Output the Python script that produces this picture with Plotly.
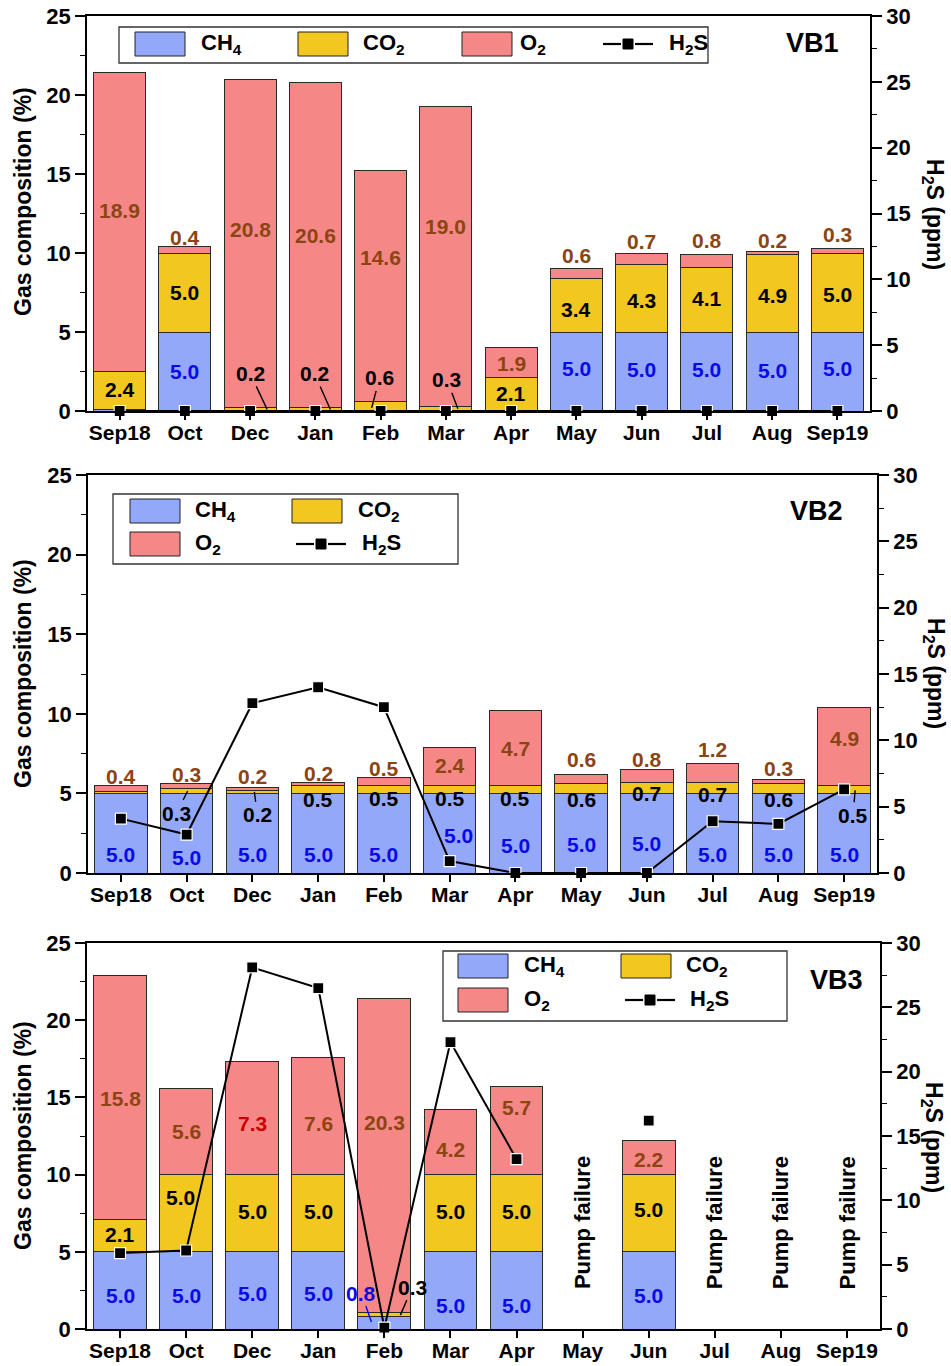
import plotly.graph_objects as go

# ---------------------------------------------------------------- data
months = ["Sep18", "Oct", "Dec", "Jan", "Feb", "Mar", "Apr", "May", "Jun", "Jul", "Aug", "Sep19"]

# VB1 gas composition (%) and H2S (ppm)
vb1_ch4 = [0.1, 5.0, 0.0, 0.0, 0.0, 0.0, 0.0, 5.0, 5.0, 5.0, 5.0, 5.0]
vb1_co2 = [2.4, 5.0, 0.2, 0.2, 0.6, 0.3, 2.1, 3.4, 4.3, 4.1, 4.9, 5.0]
vb1_o2 = [18.9, 0.4, 20.8, 20.6, 14.6, 19.0, 1.9, 0.6, 0.7, 0.8, 0.2, 0.3]
vb1_h2s = [0.0, 0.0, 0.0, 0.0, 0.0, 0.0, 0.0, 0.0, 0.0, 0.0, 0.0, 0.0]

# VB2
vb2_ch4 = [5.0, 5.0, 5.0, 5.0, 5.0, 5.0, 5.0, 5.0, 5.0, 5.0, 5.0, 5.0]
vb2_co2 = [0.1, 0.3, 0.2, 0.5, 0.5, 0.5, 0.5, 0.6, 0.7, 0.7, 0.6, 0.5]
vb2_o2 = [0.4, 0.3, 0.2, 0.2, 0.5, 2.4, 4.7, 0.6, 0.8, 1.2, 0.3, 4.9]
vb2_h2s = [4.1, 2.9, 12.8, 14.0, 12.5, 0.9, 0.0, 0.0, 0.0, 3.9, 3.7, 6.3]

# VB3 (None = pump failure, no sample)
vb3_ch4 = [5.0, 5.0, 5.0, 5.0, 0.8, 5.0, 5.0, None, 5.0, None, None, None]
vb3_co2 = [2.1, 5.0, 5.0, 5.0, 0.3, 5.0, 5.0, None, 5.0, None, None, None]
vb3_o2 = [15.8, 5.6, 7.3, 7.6, 20.3, 4.2, 5.7, None, 2.2, None, None, None]
vb3_h2s = [5.9, 6.1, 28.1, 26.5, 0.1, 22.3, 13.2, None, 16.2, None, None, None]

# ---------------------------------------------------------------- style
W, H = 951, 1366
FONT = "Liberation Sans, Arial, sans-serif"
FILL = {"CH4": "#93A8F8", "CO2": "#F2C71F", "O2": "#F58886"}
TXT = {"CH4": "#0A0AE8", "CO2": "#000000", "O2": "#8B4513"}
NAMES = {"CH4": "CH<sub>4</sub>", "CO2": "CO<sub>2</sub>", "O2": "O<sub>2</sub>"}


def fx(p):
    return p / W


def fy(p):
    return 1 - p / H


# Panel geometry in page pixels: (left, right, top, bottom)
panels = [
    dict(tag="VB1", ch4=vb1_ch4, co2=vb1_co2, o2=vb1_o2, h2s=vb1_h2s,
         box=(87, 870, 16, 411), tag_xy=(812, 43), ltitle_y=202, rtitle=(933, 214)),
    dict(tag="VB2", ch4=vb2_ch4, co2=vb2_co2, o2=vb2_o2, h2s=vb2_h2s,
         box=(88, 877, 475, 873), tag_xy=(816, 511), ltitle_y=674, rtitle=(935, 673)),
    dict(tag="VB3", ch4=vb3_ch4, co2=vb3_co2, o2=vb3_o2, h2s=vb3_h2s,
         box=(87, 880, 943, 1329), tag_xy=(836, 980), ltitle_y=1136, rtitle=(933, 1137)),
]

# Heights (in %) where the value labels sit; None = no free label
label_y = {
    "VB1": {
        "CH4": [None, 2.47, None, None, None, None, None, 2.7, 2.65, 2.65, 2.55, 2.7],
        "CO2": [1.33, 7.47, None, None, None, None, 1.13, 6.45, 7.0, 7.15, 7.3, 7.4],
        "O2": [12.7, 11.0, 11.5, 11.1, 9.7, 11.7, 3.0, 9.87, 10.7, 10.77, 10.77, 11.14],
    },
    "VB2": {
        "CH4": [1.17, 0.96, 1.17, 1.17, 1.17, 2.35, 1.72, 1.8, 1.86, 1.17, 1.17, 1.17],
        "CO2": [None, None, None, 4.63, 4.7, 4.7, 4.7, 4.63, 5.0, 4.94, 4.63, None],
        "O2": [6.05, 6.16, 6.05, 6.26, 6.58, 6.78, 7.83, 7.14, 7.14, 7.73, 6.58, 8.46],
    },
    "VB3": {
        "CH4": [2.16, 2.16, 2.31, 2.31, None, 1.55, 1.55, None, 2.16, None, None, None],
        "CO2": [6.13, 8.5, 7.64, 7.64, None, 7.64, 7.64, None, 7.75, None, None, None],
        "O2": [14.9, 12.78, 13.32, 13.32, 13.39, 11.6, 14.36, None, 11.0, None, None, None],
    },
}
# horizontal nudges (px) of individual labels
label_dx = {("VB2", "CH4", 5): 9, ("VB3", "CO2", 1): -6}
# label colour overrides
label_color = {("VB3", "O2", 2): "#CC0000"}
# labels joined to thin segments by a leader line:
# (series, index, head height %, head x-offset px, text dx px, text dy px)
leaders = {
    "VB1": [("CO2", 2, 0.1, 17, -17, -36), ("CO2", 3, 0.1, 15, -16, -36),
            ("CO2", 4, 0.2, -9, 8, -30), ("CO2", 5, 0.15, 12, -11, -29)],
    "VB2": [("CO2", 1, 5.15, 1, -11, 22), ("CO2", 2, 5.1, 2, 3, 23),
            ("CO2", 11, 5.2, 11, -2, 25)],
    "VB3": [("CH4", 4, 0.45, -13, -10, -29), ("CO2", 4, 0.9, 16, 12, -28)],
}

# Legend layouts in page pixels
legends = {
    "VB1": dict(frame=(119, 708, 27, 63),
                items=[("CH4", 135, 32, 199), ("CO2", 298, 32, 361),
                       ("O2", 462, 32, 518), ("H2S", 603, 32, 667)]),
    "VB2": dict(frame=(113, 458, 494, 564),
                items=[("CH4", 130, 499, 193), ("CO2", 292, 499, 356),
                       ("O2", 130, 532, 193), ("H2S", 296, 532, 360)]),
    "VB3": dict(frame=(443, 787, 951, 1021),
                items=[("CH4", 458, 954, 522), ("CO2", 621, 954, 684),
                       ("O2", 458, 988, 522), ("H2S", 625, 988, 688)]),
}

fig = go.Figure()
annotations = []
shapes = []
layout_axes = {}


def bold(size, color="black"):
    return dict(family=FONT, size=size, color=color, weight="bold")


def page_text(x, y, text, size, angle=0, xanchor="center"):
    return dict(x=fx(x), y=fy(y), xref="paper", yref="paper", text=text,
                textangle=angle, xanchor=xanchor, yanchor="middle",
                showarrow=False, font=bold(size))


for i, p in enumerate(panels):
    tag = p["tag"]
    xa = "x" if i == 0 else f"x{i + 1}"
    yl = "y" if i == 0 else f"y{2 * i + 1}"
    yr = f"y{2 * i + 2}"
    left, right, top, bottom = p["box"]

    series = {"CH4": p["ch4"], "CO2": p["co2"], "O2": p["o2"]}
    for key in ("CH4", "CO2", "O2"):
        fig.add_trace(go.Bar(
            x=months, y=series[key], xaxis=xa, yaxis=yl, width=0.8,
            marker=dict(color=FILL[key], line=dict(color="#2a2a2a", width=1)),
            showlegend=False, name=key))

    fig.add_trace(go.Scatter(
        x=months, y=p["h2s"], xaxis=xa, yaxis=yr, mode="lines+markers",
        line=dict(color="black", width=2), connectgaps=False, cliponaxis=False,
        marker=dict(symbol="square", size=11, color="black",
                    line=dict(color="white", width=1.2)),
        showlegend=False, name="H2S"))

    # axes
    xkey = "xaxis" if i == 0 else f"xaxis{i + 1}"
    ylkey = "yaxis" if i == 0 else f"yaxis{2 * i + 1}"
    yrkey = f"yaxis{2 * i + 2}"
    layout_axes[xkey] = dict(
        domain=[fx(left), fx(right)], anchor=yl, type="category",
        categoryorder="array", categoryarray=months, range=[-0.5, 11.5],
        tickmode="array", tickvals=months, automargin=False,
        showline=True, linecolor="black", linewidth=1.6, mirror=True,
        ticks="outside", ticklen=7, tickwidth=1.6, tickcolor="black",
        ticklabelstandoff=-5,
        tickfont=bold(21), showgrid=False, zeroline=False, fixedrange=True)
    layout_axes[ylkey] = dict(
        domain=[fy(bottom), fy(top)], anchor=xa, range=[0, 25],
        tickmode="array", tickvals=[0, 5, 10, 15, 20, 25], automargin=False,
        showline=True, linecolor="black", linewidth=1.6,
        ticks="outside", ticklen=10, tickwidth=1.6, tickcolor="black",
        minor=dict(tickmode="linear", tick0=0, dtick=2.5, ticks="outside",
                   ticklen=5, tickwidth=1.4, tickcolor="black", showgrid=False),
        tickfont=bold(22), showgrid=False, zeroline=False)
    layout_axes[yrkey] = dict(
        domain=[fy(bottom), fy(top)], anchor=xa, overlaying=yl, side="right",
        range=[0, 30], tickmode="array", tickvals=[0, 5, 10, 15, 20, 25, 30],
        automargin=False,
        showline=True, linecolor="black", linewidth=1.6,
        ticks="outside", ticklen=10, tickwidth=1.6, tickcolor="black",
        minor=dict(tickmode="linear", tick0=0, dtick=2.5, ticks="outside",
                   ticklen=5, tickwidth=1.4, tickcolor="black", showgrid=False),
        tickfont=bold(22), showgrid=False, zeroline=False)

    # value labels
    for key in ("CH4", "CO2", "O2"):
        for j, (m, v) in enumerate(zip(months, series[key])):
            ly = label_y[tag][key][j]
            if v is None or ly is None:
                continue
            annotations.append(dict(
                x=m, y=ly, xref=xa, yref=yl, text=f"{v:.1f}", showarrow=False,
                xanchor="center", yanchor="middle",
                xshift=label_dx.get((tag, key, j), 0),
                font=bold(21, label_color.get((tag, key, j), TXT[key]))))

    for key, j, hy, hdx, tdx, tdy in leaders[tag]:
        v = series[key][j]
        col = TXT[key]
        annotations.append(dict(
            x=months[j], y=hy, xref=xa, yref=yl, xshift=hdx,
            text=f"{v:.1f}", showarrow=True, arrowhead=0, arrowwidth=1.4,
            arrowcolor=col, ax=tdx, ay=tdy, standoff=0,
            font=bold(21, col)))

    # pump failure notes where no sample exists
    for m, v in zip(months, p["ch4"]):
        if v is None:
            annotations.append(dict(
                x=m, y=6.9, xref=xa, yref=yl, text="Pump failure", textangle=-90,
                xanchor="center", yanchor="middle",
                showarrow=False, font=bold(22)))

    # panel tag
    tx, ty = p["tag_xy"]
    annotations.append(page_text(tx, ty, tag, 27))

    # axis titles
    annotations.append(page_text(23, p["ltitle_y"], "Gas composition (%)", 23, angle=-90))
    rx, ry = p["rtitle"]
    annotations.append(page_text(rx, ry, "H<sub>2</sub>S (ppm)", 23, angle=90))

    # legend
    lg = legends[tag]
    l0, l1, t0, t1 = lg["frame"]
    shapes.append(dict(type="rect", xref="paper", yref="paper",
                       x0=fx(l0), x1=fx(l1), y0=fy(t1), y1=fy(t0),
                       line=dict(color="#333333", width=1.3), fillcolor="white",
                       layer="above"))
    for key, sx, sy, tx_ in lg["items"]:
        cy = sy + 12
        if key == "H2S":
            for a, b in ((sx, sx + 18), (sx + 32, sx + 50)):
                shapes.append(dict(type="line", xref="paper", yref="paper",
                                   x0=fx(a), x1=fx(b), y0=fy(cy), y1=fy(cy),
                                   line=dict(color="black", width=2.2), layer="above"))
            shapes.append(dict(type="rect", xref="paper", yref="paper",
                               x0=fx(sx + 20), x1=fx(sx + 30), y0=fy(cy + 5), y1=fy(cy - 5),
                               line=dict(color="black", width=1), fillcolor="black",
                               layer="above"))
            label = "H<sub>2</sub>S"
        else:
            shapes.append(dict(type="rect", xref="paper", yref="paper",
                               x0=fx(sx), x1=fx(sx + 50), y0=fy(sy + 24), y1=fy(sy),
                               line=dict(color="#222222", width=1), fillcolor=FILL[key],
                               layer="above"))
            label = NAMES[key]
        annotations.append(page_text(tx_, cy, label, 22, xanchor="left"))

fig.update_layout(
    width=W, height=H, margin=dict(l=0, r=0, t=0, b=0, autoexpand=False),
    paper_bgcolor="white", plot_bgcolor="white",
    barmode="stack", showlegend=False,
    font=dict(family=FONT, color="black"),
    annotations=annotations, shapes=shapes, **layout_axes)

fig.write_html("out.html")
